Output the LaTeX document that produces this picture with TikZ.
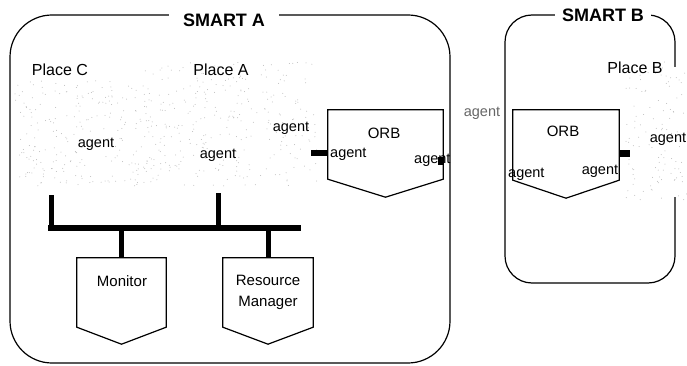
\documentclass[tikz,border=0pt]{standalone}
\usepackage{fontspec}
\setmainfont{Liberation Sans}
\usetikzlibrary{calc}
\begin{document}
\begin{tikzpicture}[x=1pt,y=-1pt,
  frame/.style={line width=1.2pt, rounded corners=42pt},
  bframe/.style={line width=1.2pt, rounded corners=27pt},
  title/.style={font=\bfseries\fontsize{18}{20}\selectfont, fill=white, inner ysep=4pt, inner xsep=7pt},
  placelbl/.style={font=\fontsize{16}{18}\selectfont, inner sep=1pt},
  txt/.style={font=\fontsize{14.5}{17}\selectfont, inner sep=0pt},
  boxlbl/.style={font=\fontsize{15}{21}\selectfont, inner sep=0pt, align=center},
  chevhold/.style={draw=none, inner sep=0pt},
  chev/.style={line width=1.2pt, fill=white},
  bus/.style={line width=6pt},
  stub/.style={line width=5pt},
  port/.style={fill=black},
  stip/.style={fill=gray!55}]
\useasboundingbox (0,0) rectangle (687,366);
% stippled places
\pgfmathsetseed{7}
\foreach \i in {1,...,230}{
  \pgfmathsetmacro\px{15+148*rnd}
  \pgfmathsetmacro\py{80+106*rnd}
  \fill[stip] (\px,\py) circle (0.5);
}
\foreach \i in {1,...,300}{
  \pgfmathsetmacro\px{135+182*rnd}
  \pgfmathsetmacro\py{62+124*rnd}
  \fill[stip] (\px,\py) circle (0.5);
}
\foreach \i in {1,...,110}{
  \pgfmathsetmacro\px{625+62*rnd}
  \pgfmathsetmacro\py{62+138*rnd}
  \fill[stip] (\px,\py) circle (0.5);
}
% frames
\draw[frame] (10,15) rectangle (450,363);
\node[title, inner xsep=14pt] (smarta) at (224,20) {SMART A};
\draw[bframe] (675,67) -- (675,15) -- (505,15) -- (505,283) -- (675,283) -- (675,197);
\node[title] (smartb) at (603,15) {SMART B};
% place labels
\node[placelbl] (placec) at (60,70) {Place C};
\node[placelbl] (placea) at (221,70) {Place A};
\node[placelbl] (placeb) at (635,68) {Place B};
% ORB A
\node[chevhold, minimum width=115pt, minimum height=69pt] (orba) at (385.5,144.5) {};
\draw[chev] (orba.north west) -- (orba.north east) -- (orba.south east) -- ($(orba.south)+(0,18)$) -- (orba.south west) -- cycle;
\node[txt, font=\fontsize{15}{17}\selectfont] (orbalbl) at (384,133) {ORB};
% ORB B
\node[chevhold, minimum width=106pt, minimum height=70pt] (orbb) at (566,145) {};
\draw[chev] (orbb.north west) -- (orbb.north east) -- (orbb.south east) -- ($(orbb.south)+(0,18)$) -- (orbb.south west) -- cycle;
\node[txt, font=\fontsize{15}{17}\selectfont] (orbblbl) at (563,131) {ORB};
% Monitor and Resource Manager
\node[chevhold, minimum width=89pt, minimum height=69pt] (monitor) at (121.5,292.5) {};
\draw[chev] (monitor.north west) -- (monitor.north east) -- (monitor.south east) -- ($(monitor.south)+(0,17)$) -- (monitor.south west) -- cycle;
\node[boxlbl] (monitorlbl) at (122,281) {Monitor};
\node[chevhold, minimum width=90pt, minimum height=69pt] (resman) at (268,292.5) {};
\draw[chev] (resman.north west) -- (resman.north east) -- (resman.south east) -- ($(resman.south)+(0,17)$) -- (resman.south west) -- cycle;
\node[boxlbl] (resmanlbl) at (268,292) {Resource\\Manager};
% bus
\coordinate (busl) at (48,228);
\coordinate (busr) at (301,228);
\coordinate (tapc) at (51,195);
\coordinate (tapa) at (218,193);
\draw[bus] (busl) -- (busr);
\draw[stub] (tapc) -- (tapc |- busl);
\draw[stub] (tapa) -- (tapa |- busl);
\draw[stub] (monitor.north |- busl) -- (monitor.north);
\draw[stub] (resman.north |- busl) -- (resman.north);
% agents
\node[txt] (agc) at (96,144) {agent};
\node[txt] (aga) at (218,155) {agent};
\node[txt] (agorbl) at (291,128) {agent};
\node[txt, anchor=west] (agorbin) at (330,154) {agent};
\node[txt, anchor=west] (agorbr) at (414,160) {agent};
\node[txt, text=gray!80!black] (agmid) at (482,113) {agent};
\node[txt, anchor=west] (agorbbl) at (508,174) {agent};
\node[txt] (agorbbr) at (600,171) {agent};
\node[txt] (agb) at (668,139) {agent};
% ports
\fill[port] (311,150) rectangle (orba.west |- 0,156);
\fill[port] (438,157) rectangle (444,165);
\fill[port] (orbb.east |- 0,150) rectangle (630,157);
\end{tikzpicture}
\end{document}
